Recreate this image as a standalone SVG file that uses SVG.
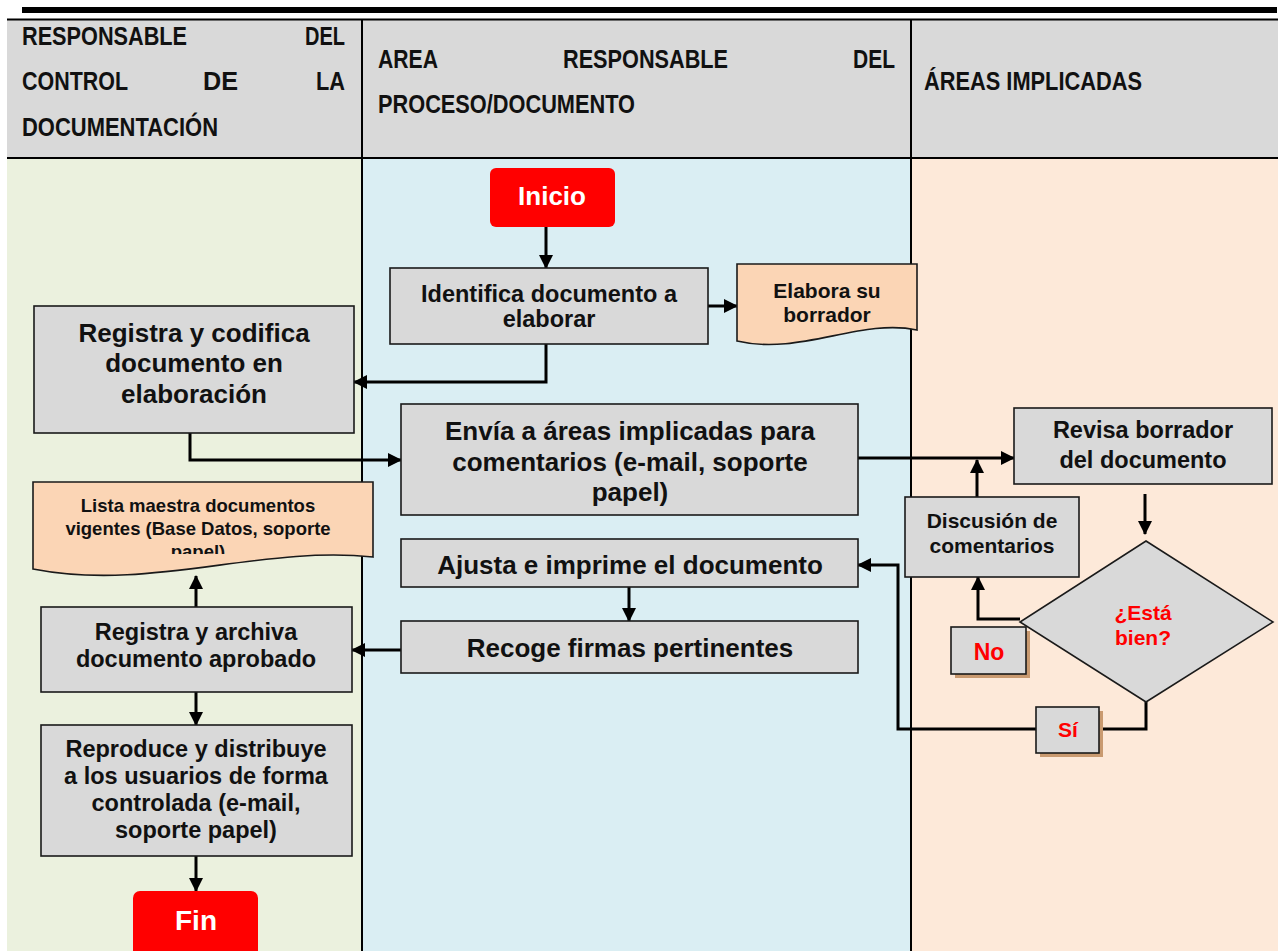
<svg xmlns="http://www.w3.org/2000/svg" width="1278" height="951" viewBox="0 0 1278 951">
<defs>
<style>
text{font-family:"Liberation Sans",Arial,sans-serif;font-weight:bold;fill:#111;}
.hd{font-size:25px;}
.box{fill:#d9d9d9;stroke:#1a1a1a;stroke-width:1.6;}
.doc{fill:#fbd5b5;stroke:#1a1a1a;stroke-width:1.6;}
.term{fill:#ff0000;}
.lbl{fill:#d9d9d9;stroke:#1a1a1a;stroke-width:1.6;}
.shadow{fill:#c99a70;}
.c{text-anchor:middle;}
.w{fill:#ffffff;}
.r{fill:#ff0000;}
.con{fill:none;stroke:#000;stroke-width:3;}
.lane{stroke:#000;stroke-width:2;}
</style>
<marker id="ah" markerUnits="userSpaceOnUse" markerWidth="14" markerHeight="14" viewBox="0 0 14 14" refX="13" refY="7" orient="auto">
<path d="M0,0 L14,7 L0,14 Z" fill="#000"/>
</marker>
<clipPath id="listaClip"><rect x="30" y="480" width="345" height="74"/></clipPath>
</defs>

<g id="lanes">
<rect x="7" y="158" width="355" height="793" fill="#ebf1de"/>
<rect x="362" y="158" width="549" height="793" fill="#daeef3"/>
<rect x="911" y="158" width="367" height="793" fill="#fde9d9"/>
<rect x="7" y="19" width="1271" height="139" fill="#d9d9d9"/>
<rect x="22" y="7" width="1255" height="6" fill="#000"/>
<line class="lane" x1="7" y1="19.5" x2="1278" y2="19.5"/>
<line class="lane" x1="7" y1="158" x2="1278" y2="158"/>
<line class="lane" x1="362" y1="19" x2="362" y2="951"/>
<line class="lane" x1="911" y1="19" x2="911" y2="951"/>
</g>

<g id="header">
<text class="hd" x="22" y="45" textLength="165" lengthAdjust="spacingAndGlyphs">RESPONSABLE</text>
<text class="hd" x="305" y="45" textLength="40" lengthAdjust="spacingAndGlyphs">DEL</text>
<text class="hd" x="22" y="90" textLength="106" lengthAdjust="spacingAndGlyphs">CONTROL</text>
<text class="hd" x="203" y="90" textLength="35" lengthAdjust="spacingAndGlyphs">DE</text>
<text class="hd" x="316" y="90" textLength="29" lengthAdjust="spacingAndGlyphs">LA</text>
<text class="hd" x="22" y="136" textLength="196" lengthAdjust="spacingAndGlyphs">DOCUMENTACIÓN</text>
<text class="hd" x="378" y="68" textLength="60" lengthAdjust="spacingAndGlyphs">AREA</text>
<text class="hd" x="563" y="68" textLength="165" lengthAdjust="spacingAndGlyphs">RESPONSABLE</text>
<text class="hd" x="853" y="68" textLength="42" lengthAdjust="spacingAndGlyphs">DEL</text>
<text class="hd" x="378" y="113" textLength="257" lengthAdjust="spacingAndGlyphs">PROCESO/DOCUMENTO</text>
<text class="hd" x="924" y="90" textLength="218" lengthAdjust="spacingAndGlyphs">ÁREAS IMPLICADAS</text>
</g>

<g id="connectors">
<path class="con" d="M546,227 V268" marker-end="url(#ah)"/>
<path class="con" d="M708,306 H737" marker-end="url(#ah)"/>
<path class="con" d="M546,344 V382 H354" marker-end="url(#ah)"/>
<path class="con" d="M190,433 V460 H401" marker-end="url(#ah)"/>
<path class="con" d="M858,458 H1014" marker-end="url(#ah)"/>
<path class="con" d="M977,497 V460" marker-end="url(#ah)"/>
<path class="con" d="M1145,494 V534" marker-end="url(#ah)"/>
<path class="con" d="M1020,619 H978 V577" marker-end="url(#ah)"/>
<path class="con" d="M1146,702 V729 H898 V565 H858" marker-end="url(#ah)"/>
<path class="con" d="M629,587 V621" marker-end="url(#ah)"/>
<path class="con" d="M401,650 H352" marker-end="url(#ah)"/>
<path class="con" d="M196,607 V576" marker-end="url(#ah)"/>
<path class="con" d="M196,692 V725" marker-end="url(#ah)"/>
<path class="con" d="M196,856 V891" marker-end="url(#ah)"/>
</g>

<g id="inicio">
<rect class="term" x="490" y="168" width="125" height="59" rx="6"/>
<text class="c w" x="552" y="205" font-size="26">Inicio</text>
</g>

<g id="identifica">
<rect class="box" x="390" y="268" width="318" height="76"/>
<text class="c" x="549" y="302" font-size="23.5">Identifica documento a</text>
<text class="c" x="549" y="327" font-size="23.5">elaborar</text>
</g>

<g id="elabora">
<path class="doc" d="M737,264 H917 V330 C860,318 800,356 737,341 Z"/>
<text class="c" x="827" y="298" font-size="21">Elabora su</text>
<text class="c" x="827" y="322" font-size="21">borrador</text>
</g>

<g id="registra-codifica">
<rect class="box" x="34" y="306" width="320" height="127"/>
<text class="c" x="194" y="342" font-size="26">Registra y codifica</text>
<text class="c" x="194" y="372" font-size="26">documento en</text>
<text class="c" x="194" y="403" font-size="26">elaboración</text>
</g>

<g id="envia">
<rect class="box" x="401" y="404" width="457" height="111"/>
<text class="c" x="630" y="440" font-size="26">Envía a áreas implicadas para</text>
<text class="c" x="630" y="471" font-size="26">comentarios (e-mail, soporte</text>
<text class="c" x="630" y="501" font-size="26">papel)</text>
</g>

<g id="revisa">
<rect class="box" x="1014" y="408" width="258" height="76"/>
<text class="c" x="1143" y="438" font-size="23.5">Revisa borrador</text>
<text class="c" x="1143" y="468" font-size="23.5">del documento</text>
</g>

<g id="discusion">
<rect class="box" x="905" y="497" width="174" height="80"/>
<text class="c" x="992" y="528" font-size="21">Discusión de</text>
<text class="c" x="992" y="553" font-size="21">comentarios</text>
</g>

<g id="decision">
<path class="box" d="M1146,541 L1273,622 L1146,702 L1020,622 Z"/>
<text class="c r" x="1143" y="620" font-size="21">¿Está</text>
<text class="c r" x="1143" y="645" font-size="21">bien?</text>
</g>

<g id="label-no">
<rect class="shadow" x="955" y="631" width="75" height="47"/>
<rect class="lbl" x="951" y="627" width="75" height="47"/>
<text class="c r" x="989" y="660" font-size="23">No</text>
</g>

<g id="label-si">
<rect class="shadow" x="1040" y="711" width="63" height="46"/>
<rect class="lbl" x="1036" y="707" width="63" height="46"/>
<text class="c r" x="1068" y="737" font-size="21">Sí</text>
</g>

<g id="ajusta">
<rect class="box" x="401" y="539" width="457" height="48"/>
<text class="c" x="630" y="574" font-size="26">Ajusta e imprime el documento</text>
</g>

<g id="recoge">
<rect class="box" x="401" y="621" width="457" height="52"/>
<text class="c" x="630" y="657" font-size="26">Recoge firmas pertinentes</text>
</g>

<g id="lista">
<path class="doc" d="M33,482 H373 V557 C260,545 150,592 33,569 Z"/>
<g clip-path="url(#listaClip)">
<text class="c" x="198" y="512" font-size="18.5">Lista maestra documentos</text>
<text class="c" x="198" y="535" font-size="18.5">vigentes (Base Datos, soporte</text>
<text class="c" x="198" y="558" font-size="18.5">papel)</text>
</g>
</g>

<g id="registra-archiva">
<rect class="box" x="41" y="607" width="311" height="85"/>
<text class="c" x="196" y="640" font-size="23.5">Registra y archiva</text>
<text class="c" x="196" y="667" font-size="23.5">documento aprobado</text>
</g>

<g id="reproduce">
<rect class="box" x="41" y="725" width="311" height="131"/>
<text class="c" x="196" y="757" font-size="23.5">Reproduce y distribuye</text>
<text class="c" x="196" y="784" font-size="23.5">a los usuarios de forma</text>
<text class="c" x="196" y="811" font-size="23.5">controlada (e-mail,</text>
<text class="c" x="196" y="838" font-size="23.5">soporte papel)</text>
</g>

<g id="fin">
<rect class="term" x="133" y="891" width="125" height="66" rx="7"/>
<text class="c w" x="196" y="930" font-size="28">Fin</text>
</g>
</svg>
